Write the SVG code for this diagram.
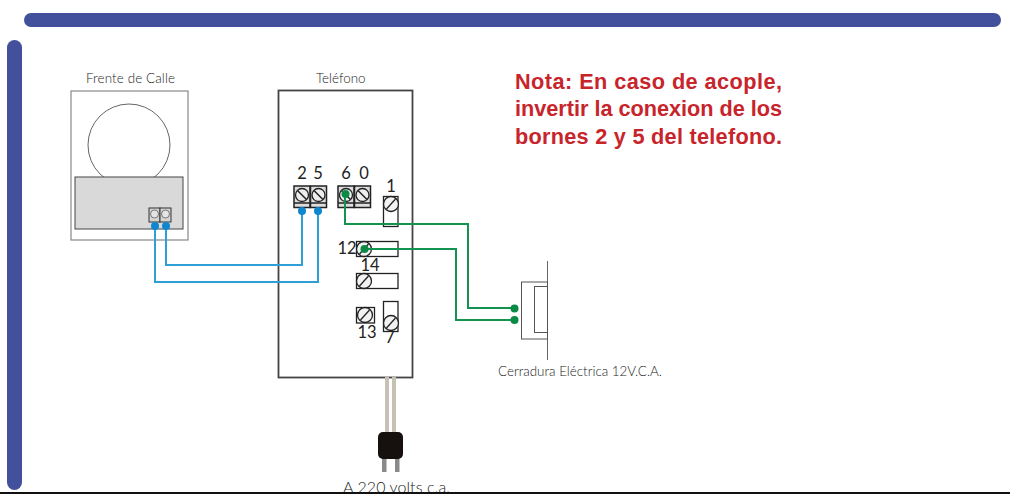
<svg xmlns="http://www.w3.org/2000/svg" xmlns:xlink="http://www.w3.org/1999/xlink" width="1010" height="494" viewBox="0 0 1010 494">
<style>
text{font-family:"Lato","Liberation Sans",sans-serif;fill:#222;font-weight:300}
.lab{font-size:13.400px}
.num{font-size:16.500px;text-anchor:middle;font-weight:400}
.note{font-family:"Liberation Sans",sans-serif;font-weight:bold;font-size:21.700px;fill:#c8242b}
.box{fill:#fff;stroke:#444;stroke-width:1.800}
.sc{fill:#f2f2f2;stroke:#222;stroke-width:1.300}
.slot{stroke:#222;stroke-width:1.300;fill:none}
.blue{fill:none;stroke:#2f9fd8;stroke-width:2}
.green{fill:none;stroke:#14924f;stroke-width:2}
.bd{fill:#0f86d0}
.gd{fill:#0b8a45}
</style>
<defs>
<g id="term"><rect x="-8" y="-9" width="16" height="21.500" fill="#ddd" stroke="#222" stroke-width="1.500"/><line x1="-8" y1="8" x2="8" y2="8" stroke="#222" stroke-width="1.500"/><circle r="6.500" fill="#eee" stroke="#222" stroke-width="1.300"/><line x1="-4.500" y1="-4.500" x2="4.500" y2="4.500" stroke="#222" stroke-width="1.500"/></g>
<g id="screw"><circle r="7.500" class="sc"/><line x1="-4.500" y1="5" x2="4.500" y2="-5" class="slot"/></g>
</defs>
<rect width="1010" height="494" fill="#fff"/>
<rect x="24" y="13" width="977" height="14" rx="7" fill="#43509b"/>
<rect x="7" y="40" width="15" height="450" rx="7.500" fill="#43509b"/>
<g id="frente">
<text class="lab" x="86" y="83" textLength="89">Frente de Calle</text>
<rect x="71" y="91" width="117" height="149" fill="#fff" stroke="#888" stroke-width="1.200"/>
<circle cx="129" cy="145" r="41" fill="#fff" stroke="#666"/>
<rect x="75" y="177" width="108" height="52" fill="#d9d9d9" stroke="#444"/>
<g fill="#d4d4d4" stroke="#333"><rect x="149" y="208" width="11" height="14"/><rect x="160" y="208" width="11" height="14"/><circle cx="154.500" cy="214" r="4" fill="#e4e4e4" stroke="#777"/><circle cx="165.500" cy="214" r="4" fill="#e4e4e4" stroke="#777"/></g>
</g>
<g id="telefono">
<text class="lab" x="316" y="83">Teléfono</text>
<rect x="278.500" y="90.500" width="134" height="287" class="box"/>
<use xlink:href="#term" x="302" y="195"/><use xlink:href="#term" x="318.500" y="195"/><use xlink:href="#term" x="346" y="195"/><use xlink:href="#term" x="362.500" y="195"/>
<text class="num" x="302" y="179">2</text><text class="num" x="318" y="179">5</text><text class="num" x="346" y="179">6</text><text class="num" x="364" y="179">0</text><text class="num" x="391" y="192">1</text><text class="num" x="347" y="254">12</text><text class="num" x="370" y="271">14</text><text class="num" x="367" y="338">13</text><text class="num" x="390" y="343">7</text>
<g fill="#fff" stroke="#222" stroke-width="1.300"><rect x="383.500" y="196.500" width="14.500" height="30"/><rect x="356.500" y="241.500" width="41.500" height="15"/><rect x="356.500" y="273.500" width="41.500" height="15"/><rect x="356.500" y="307.500" width="18" height="15.500"/><rect x="383.500" y="301.500" width="14.500" height="30"/></g>
<use xlink:href="#screw" x="391" y="204"/><use xlink:href="#screw" x="364" y="249"/><use xlink:href="#screw" x="364" y="281"/><use xlink:href="#screw" x="365" y="315"/><use xlink:href="#screw" x="391" y="323"/>
</g>
<g id="cerradura">
<line x1="547.500" y1="261" x2="547.500" y2="360" stroke="#666"/>
<rect x="521.500" y="282" width="26" height="57" fill="#fff" stroke="#555"/>
<rect x="534.500" y="286.500" width="13" height="46" fill="#fff" stroke="#555"/>
<text class="lab" x="498" y="376">Cerradura Eléctrica 12V.C.A.</text>
</g>
<g id="enchufe">
<rect x="385" y="377" width="4" height="56" fill="#c8bfb5"/><rect x="392" y="377" width="4" height="56" fill="#c8bfb5"/>
<rect x="382" y="458" width="4.500" height="14" fill="#8a8a8a"/><rect x="395" y="458" width="4.500" height="14" fill="#8a8a8a"/>
<rect x="378" y="432" width="25" height="27" rx="5" fill="#16100e"/>
<text x="343" y="493" font-size="16" textLength="107">A 220 volts c.a.</text>
</g>
<g id="connectors">
<path class="blue" d="M155 226V282H318V211"/><path class="blue" d="M166 226V265H302V211"/>
<path class="green" d="M345 193V224H468V308H514"/><path class="green" d="M364 249H456V320H514"/>
<g class="bd"><circle cx="155" cy="226" r="4"/><circle cx="166" cy="226" r="4"/><circle cx="302" cy="211" r="4"/><circle cx="318" cy="211" r="4"/></g>
<g class="gd"><circle cx="345.500" cy="194" r="4"/><circle cx="364.500" cy="249" r="4"/><circle cx="514.500" cy="308.500" r="4"/><circle cx="514.500" cy="320" r="4"/></g>
</g>
<g id="nota">
<text class="note" x="515" y="89" textLength="267">Nota: En caso de acople,</text>
<text class="note" x="515" y="116" textLength="267">invertir la conexion de los</text>
<text class="note" x="515" y="144" textLength="267">bornes 2 y 5 del telefono.</text>
</g>
<rect x="0" y="492" width="1010" height="2" fill="#111"/>
</svg>
